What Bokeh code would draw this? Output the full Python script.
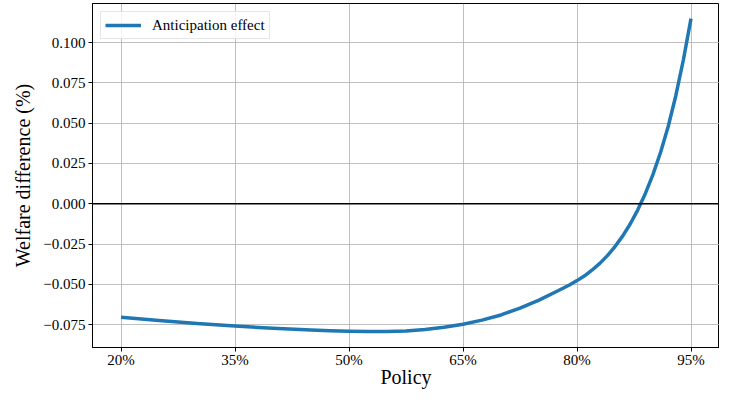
from bokeh.plotting import figure
from bokeh.models import FixedTicker, CustomJSTickFormatter, Span, Range1d
from bokeh.embed import file_html
from bokeh.resources import INLINE

# Data
policy = [20, 25, 30, 35, 40, 45, 47.5, 50, 52.5, 55, 57.5, 60, 62.5, 65, 67.5,
          70, 72.5, 75, 77.5, 79, 80, 81, 82, 83, 84, 85, 86, 87, 88, 89, 90,
          91, 92, 93, 94, 95]
welfare_diff = [-0.0705, -0.0725, -0.0743, -0.0759, -0.0773, -0.0784, -0.0788,
                -0.0791, -0.07925, -0.0792, -0.0789, -0.0780, -0.0767, -0.0748,
                -0.0722, -0.0690, -0.0648, -0.0598, -0.0540, -0.0504, -0.0477,
                -0.0447, -0.0411, -0.0370, -0.0322, -0.0266, -0.0201, -0.0126,
                -0.0038, 0.0064, 0.0182, 0.0319, 0.0479, 0.0670, 0.0893, 0.1148]

x_ticks = [20, 35, 50, 65, 80, 95]
x_tick_labels = ["20%", "35%", "50%", "65%", "80%", "95%"]
y_ticks = [-0.075, -0.050, -0.025, 0.000, 0.025, 0.050, 0.075, 0.100]

FONT = "'Liberation Serif', serif"

p = figure(frame_width=627, frame_height=344, output_backend="svg", toolbar_location=None,
           x_range=Range1d(16.25, 98.75), y_range=Range1d(-0.0892, 0.1242),
           min_border_left=92, min_border_right=0, min_border_top=3, min_border_bottom=0)

p.line(policy, welfare_diff, line_color="#1f77b4", line_width=3.5, line_join="round",
       legend_label="Anticipation effect")

p.add_layout(Span(location=0, dimension="width", line_color="black", line_width=1.5))

p.outline_line_color = "black"
p.outline_line_width = 1
p.outline_line_alpha = 1

# grids
for g in (p.xgrid, p.ygrid):
    g.grid_line_color = "#b0b0b0"
    g.grid_line_alpha = 0.8
    g.grid_line_width = 1

# x axis
p.xaxis.ticker = FixedTicker(ticks=x_ticks)
p.xaxis.major_label_overrides = {t: l for t, l in zip(x_ticks, x_tick_labels)}
p.xaxis.axis_label = "Policy"

# y axis
p.yaxis.ticker = FixedTicker(ticks=y_ticks)
p.yaxis.formatter = CustomJSTickFormatter(code="return tick.toFixed(3).replace('-', '\\u2212');")
p.yaxis.axis_label = "Welfare difference (%)"

for ax in (p.xaxis, p.yaxis):
    ax.axis_line_color = "black"
    ax.major_tick_line_color = "black"
    ax.major_tick_in = 0
    ax.major_tick_out = 4
    ax.minor_tick_line_color = None
    ax.major_label_text_font = FONT
    ax.major_label_text_font_size = "15px"
    ax.major_label_text_color = "black"
    ax.axis_label_text_font = FONT
    ax.axis_label_text_font_size = "20px"
    ax.axis_label_text_font_style = "normal"
    ax.axis_label_text_color = "black"

p.xaxis.major_label_standoff = 0
p.yaxis.major_label_standoff = 3
p.xaxis.axis_label_standoff = -5
p.yaxis.axis_label_standoff = 6

# legend
lg = p.legend[0]
lg.location = "top_left"
lg.margin = 8
lg.padding = 4
lg.glyph_width = 36
lg.glyph_height = 18
lg.label_height = 18
lg.label_standoff = 11
lg.label_text_font = FONT
lg.label_text_font_size = "15px"
lg.label_text_color = "black"
lg.border_line_color = "#cccccc"
lg.border_line_width = 1
lg.background_fill_alpha = 0.8
lg.spacing = 0

open("out.html", "w").write(file_html(p, INLINE))
